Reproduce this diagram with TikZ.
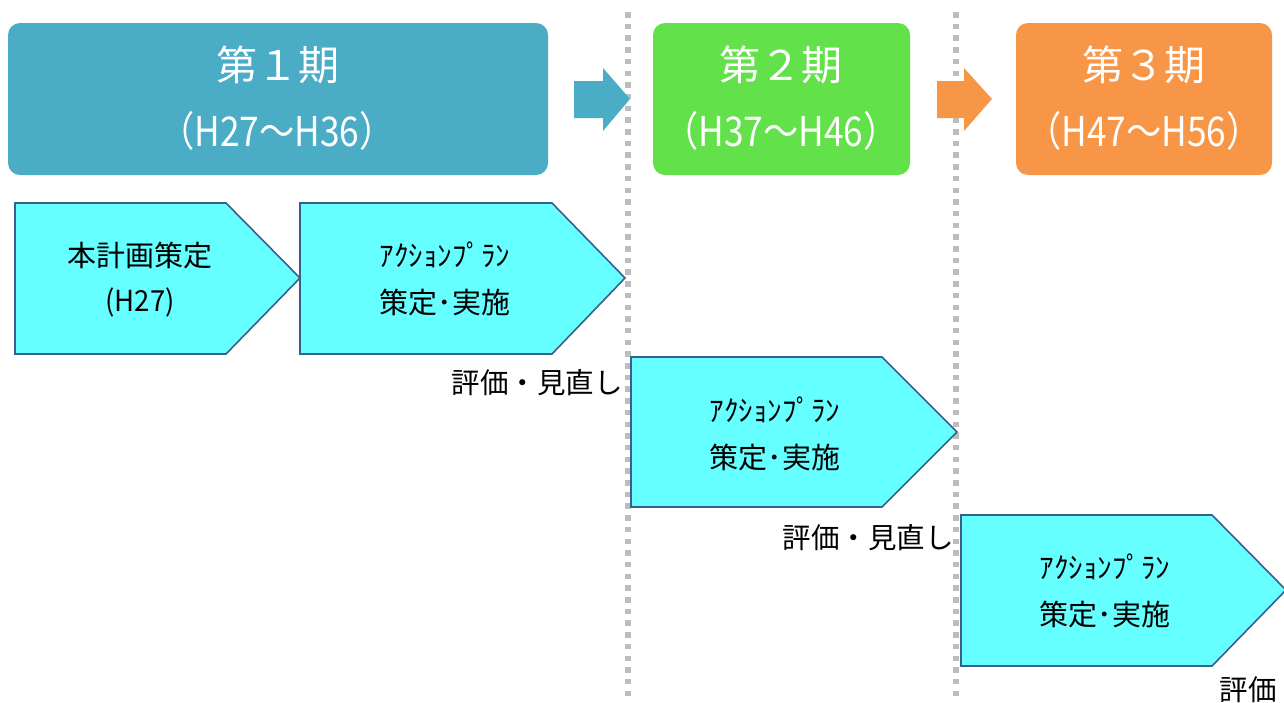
\documentclass[tikz,border=0pt]{standalone}
\usepackage{fontspec}
\setmainfont{Noto Sans CJK JP}
\usepackage{graphicx}
\definecolor{phase1}{HTML}{4BACC6}
\definecolor{phase2}{HTML}{63E14B}
\definecolor{phase3}{HTML}{F79646}
\definecolor{penfill}{HTML}{66FFFF}
\definecolor{penline}{HTML}{3A5F8C}
\definecolor{dotgrey}{HTML}{BDBDBD}
\tikzset{
  phasebox/.style={rounded corners=12pt},
  hdr/.style={text=white, font=\fontsize{41}{44}\selectfont, inner sep=0pt},
  pen/.style={fill=penfill, draw=penline, line width=1.6pt, line join=miter},
  pentext/.style={font=\fontsize{29}{32}\selectfont, inner sep=0pt},
  evaltext/.style={font=\fontsize{28.5}{32}\selectfont, inner sep=0pt, anchor=east},
  divider/.style={draw=dotgrey, line width=5.5pt, dash pattern=on 5.5pt off 6.2pt},
}
\newcommand{\nar}[2][0.75]{\scalebox{#1}[1]{#2}}
\begin{document}
\begin{tikzpicture}[x=1pt,y=-1pt]
\useasboundingbox (0,0) rectangle (1284,702);
% dividers
\coordinate (d1t) at (628,12); \coordinate (d1b) at (628,702);
\coordinate (d2t) at (956,12); \coordinate (d2b) at (956,702);
\draw[divider] (d1t) -- (d1b);
\draw[divider] (d2t) -- (d2b);
% phase boxes
\fill[phase1, phasebox] (8,23) rectangle (548,175);
\fill[phase2, phasebox] (653,23) rectangle (910,175);
\fill[phase3, phasebox] (1016,23) rectangle (1272,175);
\node[hdr] (h1a) at (278,65) {第１期};
\node[hdr] (h1b) at (277,131) {\nar[0.86]{（H27～H36）}};
\node[hdr] (h2a) at (781,65) {第２期};
\node[hdr] (h2b) at (781,131) {\nar[0.86]{（H37～H46）}};
\node[hdr] (h3a) at (1144,65) {第３期};
\node[hdr] (h3b) at (1144,131) {\nar[0.86]{（H47～H56）}};
% block arrows
\fill[phase1] (574,81) -- (603,81) -- (603,68) -- (630,99) -- (603,131) -- (603,118) -- (574,118) -- cycle;
\fill[phase3] (937,81) -- (964,81) -- (964,68) -- (992,99) -- (964,131) -- (964,118) -- (937,118) -- cycle;
% pentagons
\draw[pen] (15,203) -- (226,203) -- (300,278) -- (226,354) -- (15,354) -- cycle;
\draw[pen] (300,203) -- (552,203) -- (625,278) -- (552,354) -- (300,354) -- cycle;
\draw[pen] (631,357) -- (882,357) -- (957,432) -- (882,507) -- (631,507) -- cycle;
\draw[pen] (961,515) -- (1212,515) -- (1286,590) -- (1212,666) -- (961,666) -- cycle;
\node[pentext] (p1a) at (140,255) {本計画策定};
\node[pentext] (p1b) at (140,302) {\nar[0.95]{(H27)}};
\node[pentext] (p2a) at (445,255) {ｱｸｼｮﾝﾌﾟﾗﾝ};
\node[pentext] (p2b) at (445,302) {策定･実施};
\node[pentext] (p3a) at (775,410) {ｱｸｼｮﾝﾌﾟﾗﾝ};
\node[pentext] (p3b) at (775,457) {策定･実施};
\node[pentext] (p4a) at (1105,567) {ｱｸｼｮﾝﾌﾟﾗﾝ};
\node[pentext] (p4b) at (1105,614) {策定･実施};
% evaluation labels
\node[evaltext] (e1) at (623,383) {評価・見直し};
\node[evaltext] (e2) at (954,538) {評価・見直し};
\node[evaltext] (e3) at (1277,690) {評価};
\end{tikzpicture}
\end{document}
